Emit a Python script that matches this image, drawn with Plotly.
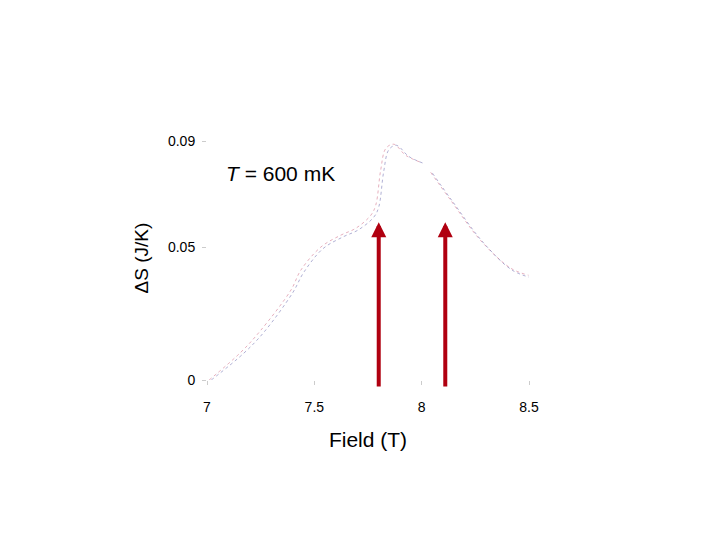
import plotly.graph_objects as go

field_red = [7.01, 7.158, 7.251, 7.391, 7.437, 7.530, 7.623, 7.693, 7.763, 7.786, 7.809, 7.833, 7.870, 7.926, 7.995, None, 8.042, 8.135, 8.274, 8.414, 8.498]
ds_red = [0.0, 0.0105, 0.0188, 0.0339, 0.0414, 0.0501, 0.0546, 0.0572, 0.0621, 0.0659, 0.0791, 0.0873, 0.0889, 0.0847, 0.0821, None, 0.0783, 0.0678, 0.0527, 0.0422, 0.0395]
field_blue = [7.02, 7.17, 7.265, 7.40, 7.45, 7.54, 7.635, 7.705, 7.778, 7.80, 7.823, 7.847, 7.882, 7.94, 8.005, None, 8.05, 8.145, 8.285, 8.42, 8.50]
ds_blue = [0.0, 0.0100, 0.0180, 0.0330, 0.0405, 0.0495, 0.0540, 0.0566, 0.0615, 0.0652, 0.0785, 0.0868, 0.0885, 0.0843, 0.0818, None, 0.0780, 0.0672, 0.0520, 0.0415, 0.0388]
arrow_x = [7.8, 8.11]

fig = go.Figure()
fig.add_trace(go.Scatter(x=field_red, y=ds_red, mode="lines", line=dict(color="rgba(200,80,110,0.45)", width=1, dash="dot", shape="spline")))
fig.add_trace(go.Scatter(x=field_blue, y=ds_blue, mode="lines", line=dict(color="rgba(80,80,160,0.45)", width=1, dash="dot", shape="spline")))

for ax in arrow_x:
    fig.add_annotation(x=ax, y=0.0595, ax=ax, ay=-0.003, xref="x", yref="y", axref="x", ayref="y",
                       showarrow=True, arrowhead=2, arrowsize=0.75, arrowwidth=4, arrowcolor="#b00010", text="")

fig.add_annotation(x=7.08, y=0.078, xref="x", yref="y", showarrow=False, xanchor="left",
                   text="<i>T</i> = 600 mK", font=dict(size=21, color="black"))

fig.update_xaxes(range=[7, 8.5], tickvals=[7, 7.5, 8, 8.5], ticktext=["7", "7.5", "8", "8.5"],
                 showgrid=False, zeroline=False, showline=False, ticks="outside", ticklen=4,
                 tickcolor="#cccccc", mirror=True, ticklabelstandoff=10,
                 title=dict(text="Field (T)", font=dict(size=21, color="black"), standoff=18),
                 tickfont=dict(size=14, color="black"))
fig.update_yaxes(range=[0, 0.092], tickvals=[0, 0.05, 0.09], ticktext=["0", "0.05", "0.09"],
                 showgrid=False, zeroline=False, showline=False, ticks="outside", ticklen=4,
                 tickcolor="#cccccc", mirror=True, ticklabelstandoff=4,
                 title=dict(text="ΔS (J/K)", font=dict(size=19, color="black"), standoff=14),
                 tickfont=dict(size=14, color="black"))
fig.update_layout(width=720, height=540, showlegend=False, plot_bgcolor="white", paper_bgcolor="white",
                  margin=dict(l=199, r=199, t=128, b=168), font=dict(family="Liberation Sans"))

fig.write_html("out.html")
